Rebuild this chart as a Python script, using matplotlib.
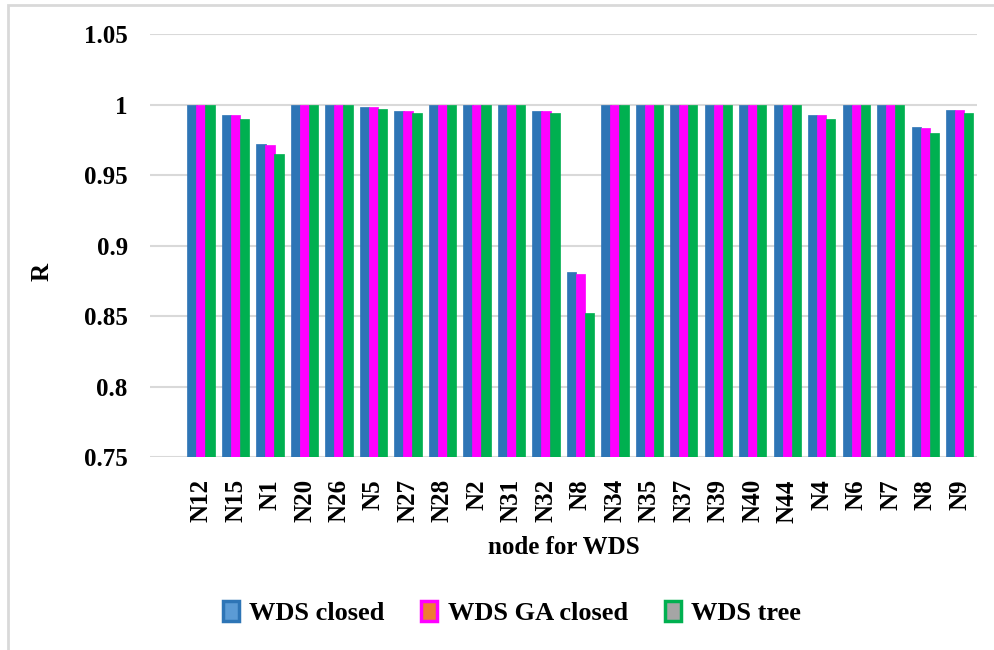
import matplotlib.pyplot as plt
import numpy as np
from matplotlib.patches import Patch, Rectangle

# node labels along the x axis
nodes = ['N12', 'N15', 'N1', 'N20', 'N26', 'N5', 'N27', 'N28', 'N2', 'N31', 'N32',
         'N8', 'N34', 'N35', 'N37', 'N39', 'N40', 'N44', 'N4', 'N6', 'N7', 'N8', 'N9']

# reliability R per node
wds_closed = [1.0, 0.9924, 0.972, 1.0, 1.0, 0.998, 0.9957, 1.0, 1.0, 1.0, 0.9957,
              0.881, 1.0, 1.0, 1.0, 1.0, 1.0, 1.0, 0.9924, 1.0, 1.0, 0.984, 0.996]
wds_ga_closed = [1.0, 0.9922, 0.971, 1.0, 1.0, 0.998, 0.9955, 1.0, 1.0, 1.0, 0.9955,
                 0.880, 1.0, 1.0, 1.0, 1.0, 1.0, 1.0, 0.9922, 1.0, 1.0, 0.983, 0.996]
wds_tree = [0.9995, 0.990, 0.965, 0.9995, 0.9995, 0.997, 0.994, 0.9995, 0.9995, 0.9995, 0.994,
            0.852, 0.9995, 0.9995, 0.9995, 0.9995, 0.9995, 0.9995, 0.990, 0.9995, 0.9995, 0.9795, 0.994]

series_names = ['WDS closed', 'WDS GA closed', 'WDS tree']
bar_colors = ['#2E75B6', '#FF00FF', '#00B050']
legend_fills = ['#5B9BD5', '#ED7D31', '#A5A5A5']

plt.rcParams['font.family'] = ['Liberation Serif', 'DejaVu Serif']
plt.rcParams['font.weight'] = 'bold'

fig = plt.figure(figsize=(9.95, 6.5), dpi=100)
ax = fig.add_axes([150 / 995, 1 - 457 / 650, (977 - 150) / 995, (457 - 34) / 650])

x = np.arange(len(nodes))
w = 0.27
for k, vals in enumerate([wds_closed, wds_ga_closed, wds_tree]):
    ax.bar(x + (k - 1) * 0.26, vals, width=w, color=bar_colors[k],
           edgecolor=bar_colors[k], linewidth=0.5, zorder=3)

ax.set_ylim(0.75, 1.05)
ax.set_yticks([0.75, 0.8, 0.85, 0.9, 0.95, 1.0, 1.05])
ax.set_yticklabels(['0.75', '0.8', '0.85', '0.9', '0.95', '1', '1.05'])
ax.set_xlim(-1.48, 22.5)
ax.set_xticks(x)
ax.set_xticklabels(nodes, rotation=90)

ax.grid(axis='y', color='#D9D9D9', linewidth=1.5, zorder=0)
for s in ax.spines.values():
    s.set_visible(False)
ax.tick_params(axis='both', length=0, labelsize=18)
ax.tick_params(axis='y', pad=16)
ax.tick_params(axis='x', pad=16)

ax.set_ylabel('R', fontsize=18, fontweight='bold')
ax.yaxis.set_label_coords((54 - 150) / 827, (457 - 272) / 423)
ax.set_xlabel('node for WDS', fontsize=18, fontweight='bold', labelpad=10)

handles = [Patch(facecolor=legend_fills[k], edgecolor=bar_colors[k], linewidth=2.5)
           for k in range(3)]
fig.legend(handles, series_names, loc='center', bbox_to_anchor=(512 / 995, 1 - 613 / 650),
           ncol=3, frameon=False, fontsize=19, handlelength=0.6, handleheight=0.8,
           handletextpad=0.4, columnspacing=1.4)

# light outer frame
fig.patches.append(Rectangle((8 / 995, -0.1), 1.2, 1.1 - 5 / 650, transform=fig.transFigure,
                             fill=False, edgecolor='#D9D9D9', linewidth=2))

fig.savefig('out.png', dpi=100)
